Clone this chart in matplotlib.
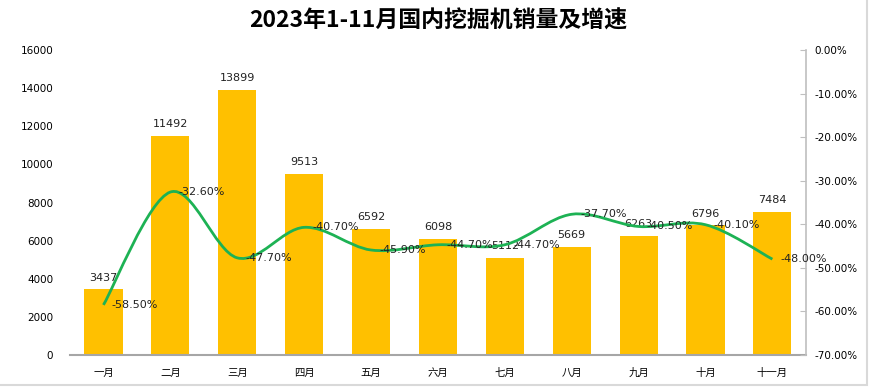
import matplotlib
matplotlib.use("Agg")
import matplotlib.pyplot as plt
from matplotlib.path import Path
from matplotlib.patches import PathPatch, Rectangle
from matplotlib.ticker import FuncFormatter

plt.rcParams['font.family'] = ['DejaVu Sans', 'Noto Sans CJK SC']

# data
months = ['一月', '二月', '三月', '四月', '五月', '六月', '七月', '八月', '九月', '十月', '十一月']
sales = [3437, 11492, 13899, 9513, 6592, 6098, 5112, 5669, 6263, 6796, 7484]
growth = [-58.5, -32.6, -47.7, -40.7, -45.9, -44.7, -44.7, -37.7, -40.5, -40.1, -48.0]

bar_color = '#FFC000'
line_color = '#1DB254'
axis_gray = '#BFBFBF'

fig = plt.figure(figsize=(8.76, 3.89), dpi=100)
ax = fig.add_axes([0.0799, 0.0874, 0.840, 0.784])
ax2 = ax.twinx()

x = list(range(len(months)))
ax.bar(x, sales, width=0.57, color=bar_color, zorder=2)
ax.set_xlim(-0.5, len(months) - 0.5)
ax.set_ylim(0, 16000)
ax.set_yticks(range(0, 16001, 2000))
ax.set_xticks(x)
ax.set_xticklabels(months, fontsize=7.5, family=['Noto Sans CJK SC'])
ax.tick_params(axis='x', length=0, pad=9)
ax.tick_params(axis='y', length=0, labelsize=7.5, pad=12)
for s in ['top', 'left', 'right']:
    ax.spines[s].set_visible(False)
ax.spines['bottom'].set_color('#A6A6A6')
ax.spines['bottom'].set_linewidth(1.5)

for xi, v in zip(x, sales):
    ax.annotate(str(v), (xi, v), xytext=(0, 5), textcoords='offset points',
                ha='center', va='bottom', fontsize=8, color='#222222', zorder=5)

# smoothed growth line (bezier through the data points)
ax2.set_ylim(-70, 0)
ax2.set_yticks(range(-70, 1, 10))
ax2.yaxis.set_major_formatter(FuncFormatter(lambda v, p: f'{v:.2f}%'))
ax2.tick_params(axis='y', direction='in', length=4, color=axis_gray, labelsize=7.5, pad=6)
for s in ['top', 'left', 'bottom']:
    ax2.spines[s].set_visible(False)
ax2.spines['right'].set_color(axis_gray)
ax2.spines['right'].set_linewidth(1.2)

pts = list(zip(x, growth))
verts = [pts[0]]
codes = [Path.MOVETO]
n = len(pts)
for i in range(n - 1):
    p0 = pts[i - 1] if i > 0 else pts[i]
    p1 = pts[i]
    p2 = pts[i + 1]
    p3 = pts[i + 2] if i + 2 < n else pts[i + 1]
    c1 = (p1[0] + (p2[0] - p0[0]) / 6, p1[1] + (p2[1] - p0[1]) / 6)
    c2 = (p2[0] - (p3[0] - p1[0]) / 6, p2[1] - (p3[1] - p1[1]) / 6)
    verts += [c1, c2, p2]
    codes += [Path.CURVE4] * 3
ax2.add_patch(PathPatch(Path(verts, codes), facecolor='none', edgecolor=line_color,
                        lw=2, zorder=3))

for xi, g in zip(x, growth):
    ax2.annotate(f'{g:.2f}%', (xi, g), xytext=(6, 0), textcoords='offset points',
                 ha='left', va='center', fontsize=8, color='#222222', zorder=5)

fig.text(0.5, 0.947, '2023年1-11月国内挖掘机销量及增速', ha='center', va='center',
         fontsize=16.5, fontweight='bold', family=['Noto Sans CJK SC'])

# chart frame
fig.patches.append(Rectangle((-0.02, 4 / 389), (868 + 17) / 876, 1.1, transform=fig.transFigure,
                             facecolor='none', edgecolor='#D9D9D9', lw=1.5))

fig.savefig('out.png', dpi=100)
